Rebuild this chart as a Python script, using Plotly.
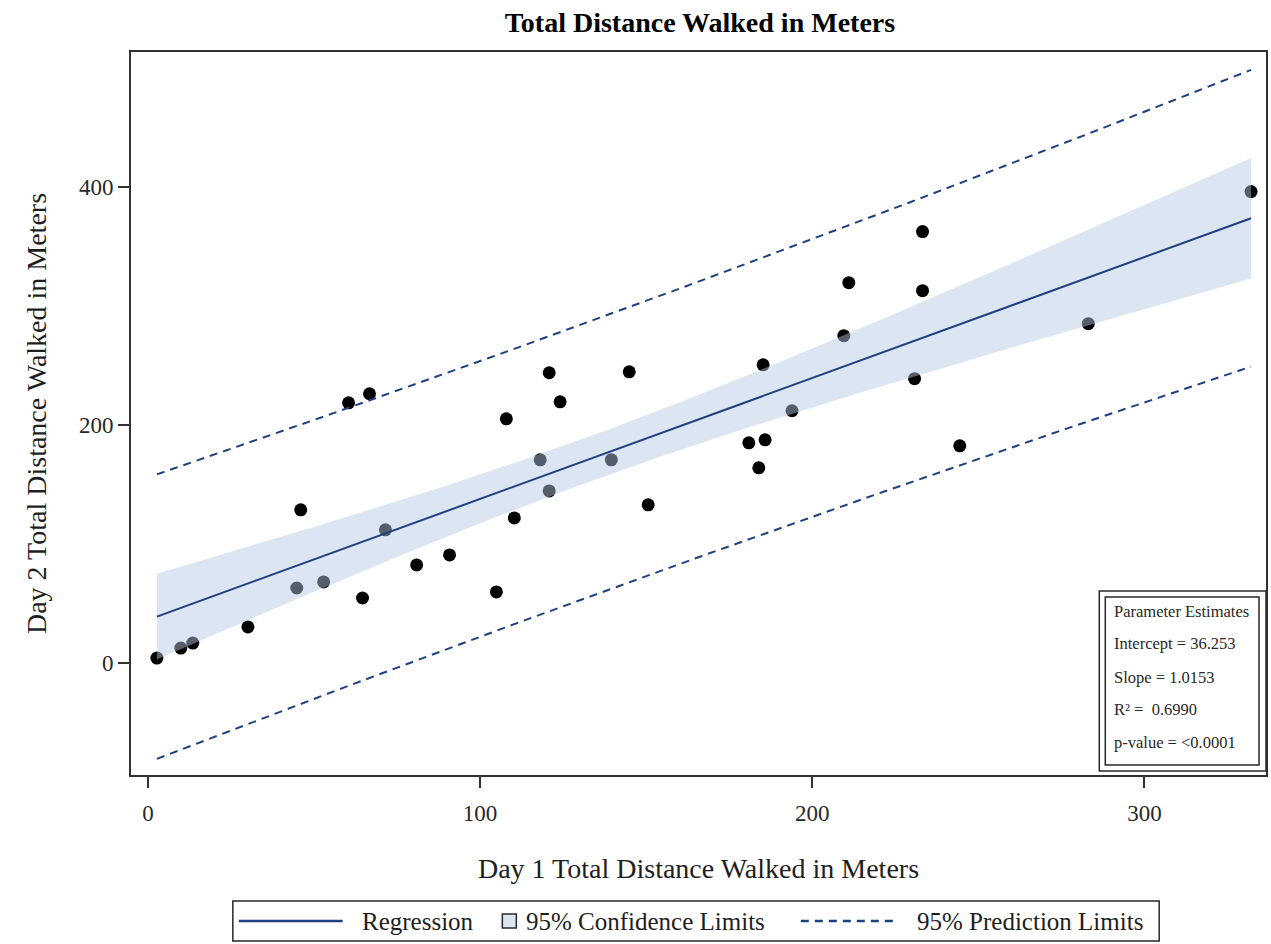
import numpy as np
import plotly.graph_objects as go

# Data
day1 = [2.7, 9.9, 13.5, 30.1, 44.8, 46.0, 52.9, 60.4, 64.6, 66.7, 71.5, 80.9,
        90.8, 104.9, 107.9, 110.3, 118.1, 120.8, 120.8, 124.1, 139.5, 144.9,
        150.6, 180.9, 183.9, 185.8, 185.2, 193.9, 209.5, 211.0, 230.8, 233.2,
        233.2, 244.4, 283.1, 332.1]
day2 = [4.2, 12.6, 16.8, 30.3, 63.0, 128.6, 68.1, 218.5, 54.6, 226.1, 111.8, 82.4,
        90.8, 59.7, 205.0, 121.8, 170.6, 243.7, 144.5, 219.3, 170.6, 244.5,
        132.8, 184.9, 163.9, 187.4, 250.4, 211.8, 274.8, 319.3, 238.7, 362.2,
        312.6, 182.4, 284.9, 395.8]

intercept = 36.253
slope = 1.0153
r_squared = "0.6990"
p_value = "<0.0001"
t_crit = 2.0322  # t(0.975, df=34)

legend_labels = ["Regression", "95% Confidence Limits", "95% Prediction Limits"]

x = np.array(day1)
y = np.array(day2)
n = len(x)
xbar = x.mean()
sxx = ((x - xbar) ** 2).sum()
resid = y - (intercept + slope * x)
s = np.sqrt((resid ** 2).sum() / (n - 2))

xg = np.linspace(x.min(), x.max(), 200)
yhat = intercept + slope * xg
se_mean = s * np.sqrt(1 / n + (xg - xbar) ** 2 / sxx)
se_pred = s * np.sqrt(1 + 1 / n + (xg - xbar) ** 2 / sxx)
ci_lo, ci_hi = yhat - t_crit * se_mean, yhat + t_crit * se_mean
pi_lo, pi_hi = yhat - t_crit * se_pred, yhat + t_crit * se_pred

line_col = "rgb(31,64,128)"
serif = "Liberation Serif"
dash = "8px,6px"

fig = go.Figure()
fig.add_trace(go.Scatter(x=day1, y=day2, mode="markers",
                         marker=dict(color="black", size=13), showlegend=False,
                         hoverinfo="x+y"))
fig.add_trace(go.Scatter(x=np.concatenate([xg, xg[::-1]]),
                         y=np.concatenate([ci_hi, ci_lo[::-1]]),
                         fill="toself", fillcolor="rgba(181,202,228,0.47)",
                         line=dict(width=0), mode="lines", showlegend=False,
                         hoverinfo="skip"))
fig.add_trace(go.Scatter(x=xg, y=yhat, mode="lines", name=legend_labels[0],
                         line=dict(color=line_col, width=2), showlegend=False))
fig.add_trace(go.Scatter(x=xg, y=pi_hi, mode="lines", name=legend_labels[2],
                         line=dict(color=line_col, width=2, dash=dash), showlegend=False))
fig.add_trace(go.Scatter(x=xg, y=pi_lo, mode="lines", showlegend=False,
                         line=dict(color=line_col, width=2, dash=dash)))

axis_common = dict(showgrid=False, zeroline=False, showline=True, linecolor="rgb(50,50,50)",
                   linewidth=2, mirror=True, ticks="outside", ticklen=11, tickwidth=2,
                   tickcolor="rgb(50,50,50)",
                   tickfont=dict(family=serif, size=23, color="rgb(40,40,40)"))

L, T, W, H = 131, 52, 1137, 723


def px(xp):
    return (xp - L) / W


def py(yp):
    return (T + H - yp) / H


fig.update_layout(
    width=1271, height=944,
    margin=dict(l=131, r=3, t=52, b=169),
    paper_bgcolor="white", plot_bgcolor="white",
    title=dict(text="<b>Total Distance Walked in Meters</b>", x=0.5507, xanchor="center",
               y=1 - 22 / 944, yanchor="middle",
               font=dict(family=serif, size=28, color="black")),
    xaxis=dict(range=[-5.1, 336.6], tickvals=[0, 100, 200, 300], ticklabelstandoff=5,
               title=dict(text="Day 1 Total Distance Walked in Meters",
                          font=dict(family=serif, size=28, color="rgb(30,30,30)"), standoff=34),
               **axis_common),
    yaxis=dict(range=[-94, 513], tickvals=[0, 200, 400],
               title=dict(text="Day 2 Total Distance Walked in Meters",
                          font=dict(family=serif, size=28, color="rgb(30,30,30)"), standoff=24),
               **axis_common),
    showlegend=False,
)

dark = "rgb(40,40,40)"
# Parameter estimates inset box
fig.add_shape(type="rect", xref="paper", yref="paper",
              x0=px(1101), x1=1.0, y0=py(771), y1=py(591),
              line=dict(color=dark, width=1.5), fillcolor="white", layer="above")
fig.add_shape(type="rect", xref="paper", yref="paper",
              x0=px(1107), x1=px(1261), y0=py(765), y1=py(597),
              line=dict(color=dark, width=1.5), fillcolor="white", layer="above")
inset_lines = ["Parameter Estimates",
               f"Intercept = {intercept:.3f}",
               f"Slope = {slope:.4f}",
               f"R² =  {r_squared}",
               f"p-value = {p_value}"]
inset_y = [611, 643, 677, 709, 742]
for txt, yy in zip(inset_lines, inset_y):
    fig.add_annotation(text=txt, xref="paper", yref="paper",
                       x=px(1114), y=py(yy),
                       xanchor="left", yanchor="middle", showarrow=False,
                       font=dict(family=serif, size=16.5, color=dark))

# Legend drawn below the plot
leg_y = 921
fig.add_shape(type="rect", xref="paper", yref="paper",
              x0=px(233), x1=px(1161), y0=py(941), y1=py(901),
              line=dict(color=dark, width=1.5), fillcolor="white")
fig.add_shape(type="line", xref="paper", yref="paper",
              x0=px(239), x1=px(343), y0=py(leg_y), y1=py(leg_y),
              line=dict(color=line_col, width=2.5))
fig.add_shape(type="rect", xref="paper", yref="paper",
              x0=px(503), x1=px(517), y0=py(928), y1=py(914),
              line=dict(color=dark, width=1.5), fillcolor="rgb(220,230,242)")
fig.add_shape(type="line", xref="paper", yref="paper",
              x0=px(802), x1=px(898), y0=py(leg_y), y1=py(leg_y),
              line=dict(color=line_col, width=2.5, dash=dash))
for txt, xx in zip(legend_labels, [360, 525, 916]):
    fig.add_annotation(text=txt, xref="paper", yref="paper", x=px(xx), y=py(leg_y),
                       xanchor="left", yanchor="middle", showarrow=False,
                       font=dict(family=serif, size=25, color="rgb(30,30,30)"))

fig.write_html("out.html", config={"displayModeBar": False},
               post_script="document.body.style.margin='0px';document.body.style.overflow='hidden';")
